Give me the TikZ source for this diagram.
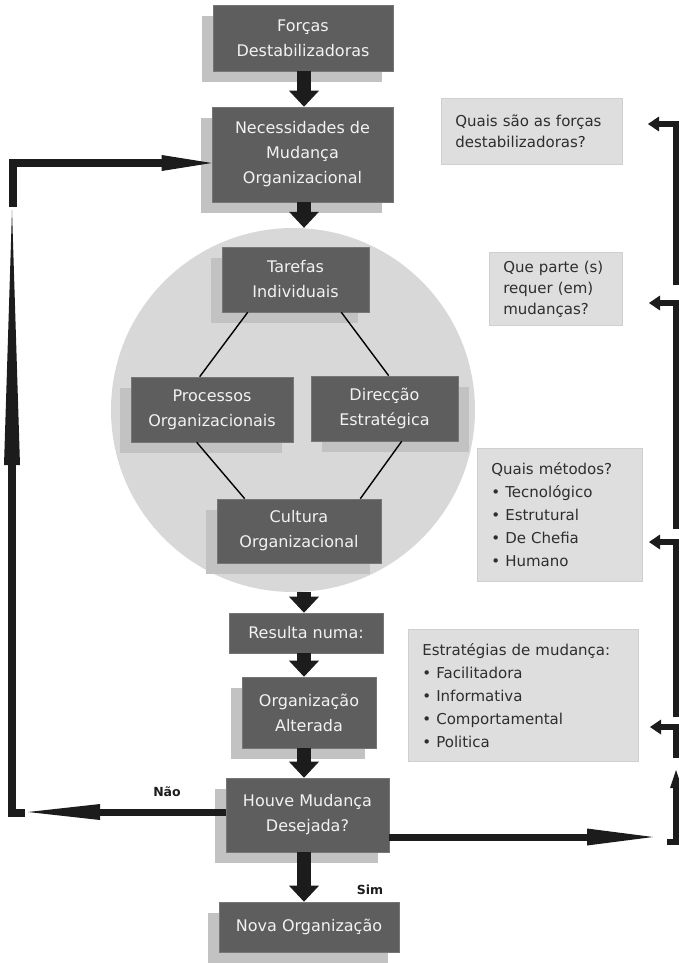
\documentclass[tikz,border=0pt]{standalone}
\usepackage{fontspec}
\setmainfont{DejaVu Sans}
\usetikzlibrary{arrows.meta,shadows}

\definecolor{boxdark}{HTML}{5E5E5E}
\definecolor{boxshade}{HTML}{C2C2C2}
\definecolor{disc}{HTML}{D8D8D8}
\definecolor{qfill}{HTML}{DEDEDE}
\definecolor{qedge}{HTML}{CFCFCF}
\definecolor{ink}{HTML}{1C1C1C}
\definecolor{qtext}{HTML}{2E2E2E}

\newcommand\qbul{\makebox[14pt][l]{•}}

\tikzset{
  darkbox/.style={fill=boxdark, draw=boxdark!85!white, line width=0.6pt,
    text=white!95!black, align=center, inner sep=0pt,
    font=\fontsize{16}{25}\selectfont},
  lshade/.style={general shadow={fill=boxshade, shadow xshift=-11pt, shadow yshift=-11pt}},
  rshade/.style={general shadow={fill=boxshade, shadow xshift=11pt, shadow yshift=-11pt}},
  qbox/.style={fill=qfill, draw=qedge, line width=0.6pt, text=qtext, align=left,
    inner xsep=14pt, inner ysep=0pt, anchor=north west,
    font=\fontsize{15}{21}\selectfont},
  qlist/.style={qbox, font=\fontsize{15}{23}\selectfont},
  flow/.style={draw=ink, line width=14pt,
    -{Triangle[width=30pt,length=16pt,line width=0pt]}},
  link/.style={draw=black, line width=1.4pt},
  loopline/.style={draw=ink, line width=7pt, line join=miter},
  tick/.style={draw=ink, line width=6pt, line join=miter,
    -{Triangle[width=15pt,length=11pt,line width=0pt]}},
  lbl/.style={font=\bfseries\fontsize{12.5}{14}\selectfont, text=ink},
}

\begin{document}
\begin{tikzpicture}[x=1pt, y=-1pt]
\useasboundingbox (0,0) rectangle (679,963);

% grey disc holding the four organisational parts
\node[circle, fill=disc, minimum size=364pt, inner sep=0pt] (circ) at (293,410) {};

% main flow boxes
\node[darkbox, lshade, minimum width=180pt, minimum height=66pt] (b1) at (303,38)
  {Forças\\Destabilizadoras};
\node[darkbox, lshade, minimum width=181pt, minimum height=95pt] (b2) at (302.5,154.5)
  {Necessidades de\\Mudança\\Organizacional};

\node[darkbox, lshade, minimum width=147pt, minimum height=65pt] (t) at (295.5,279.5)
  {Tarefas\\Individuais};
\node[darkbox, lshade, minimum width=162pt, minimum height=65pt] (p) at (212,409.5)
  {Processos\\Organizacionais};
\node[darkbox, rshade, minimum width=147pt, minimum height=65pt] (d) at (384.5,408.5)
  {Direcção\\Estratégica};
\node[darkbox, lshade, minimum width=164pt, minimum height=64pt] (c) at (299,531)
  {Cultura\\Organizacional};

\node[darkbox, minimum width=154pt, minimum height=40pt] (r) at (306,633)
  {Resulta numa:};
\node[darkbox, lshade, minimum width=134pt, minimum height=71pt] (o) at (309,712.5)
  {Organização\\Alterada};
\node[darkbox, lshade, minimum width=163pt, minimum height=74pt] (h) at (307.5,815)
  {Houve Mudança\\Desejada?};
\node[darkbox, lshade, minimum width=180pt, minimum height=50pt] (n) at (309,927)
  {Nova Organização};

% links inside the disc
\draw[link] ([xshift=26pt]t.south west) -- ([xshift=69pt]p.north west);
\draw[link] ([xshift=-28pt]t.south east) -- ([xshift=78pt]d.north west);
\draw[link] ([xshift=66pt]p.south west) -- ([xshift=28pt]c.north west);
\draw[link] ([xshift=91pt]d.south west) -- ([xshift=-21pt]c.north east);

% vertical flow arrows
\coordinate (ax) at (304,0);
\draw[flow] (b1.south -| ax) -- (b2.north -| ax);
\draw[flow] (b2.south -| ax) -- (circ.north -| ax);
\draw[flow] (circ.south -| ax) -- (r.north -| ax);
\draw[flow] (r.south -| ax) -- (o.north -| ax);
\draw[flow] (o.south -| ax) -- (h.north -| ax);
\draw[flow] (h.south -| ax) -- (n.north -| ax);

% question boxes
\node[qbox, text width=153pt, minimum height=66pt] (q1) at (441,98)
  {Quais são as forças\\destabilizadoras?};
\node[qbox, text width=105pt, minimum height=73pt] (q2) at (489,252)
  {Que parte (s)\\requer (em)\\mudanças?};
\node[qlist, text width=137pt, minimum height=133pt] (q3) at (477,448)
  {Quais métodos?\\\qbul Tecnológico\\\qbul Estrutural\\\qbul De Chefia\\\qbul Humano};
\node[qlist, text width=202pt, minimum height=132pt] (q4) at (408,629)
  {Estratégias de mudança:\\\qbul Facilitadora\\\qbul Informativa\\\qbul Comportamental\\\qbul Politica};

% "no" loop back to the needs for change
\coordinate (ntip) at (28,812);
\draw[loopline, -{Triangle[width=16pt,length=72pt,line width=0pt]}] (h.west |- ntip) -- (ntip);
\coordinate (lfoot) at (25,813);
\coordinate (lcorner) at (12,813);
\coordinate (ltop) at (12,210);
\draw[loopline, line width=8pt, -{Triangle[width=16pt,length=255pt,line width=0pt]}]
  (lfoot) -- (lcorner) -- (ltop);
\coordinate (ubase) at (13,207);
\coordinate (ucorner) at (13,163);
\draw[loopline, line width=8pt, -{Triangle[width=16pt,length=50pt,line width=0pt]}]
  (ubase) -- (ucorner) -- (b2.west |- ucorner);
\node[lbl] (nao) at (167,792) {Não};

% "yes" side and the questions bracket
\node[lbl] (sim) at (370,890) {Sim};
\coordinate (rtip) at (653,837);
\draw[loopline, -{Triangle[width=17pt,length=66pt,line width=0pt]}] (h.east |- rtip) -- (rtip);

\coordinate (rfoot) at (667,842);
\coordinate (rcorner) at (676,842);
\coordinate (rup) at (676,770);
\draw[draw=ink, line width=6pt, line join=miter,
  -{Triangle[width=12pt,length=18pt,line width=0pt]}]
  (rfoot) -- (rcorner) -- (rup);

\coordinate (k1b) at (676,285); \coordinate (k1) at (676,124); \coordinate (k1t) at (648,124);
\coordinate (k2b) at (676,529); \coordinate (k2) at (676,303); \coordinate (k2t) at (649,303);
\coordinate (k3b) at (676,717); \coordinate (k3) at (676,542); \coordinate (k3t) at (649,542);
\coordinate (k4b) at (676,758); \coordinate (k4) at (676,727); \coordinate (k4t) at (650,727);
\draw[tick] (k1b) -- (k1) -- (k1t);
\draw[tick] (k2b) -- (k2) -- (k2t);
\draw[tick] (k3b) -- (k3) -- (k3t);
\draw[tick] (k4b) -- (k4) -- (k4t);
\end{tikzpicture}
\end{document}
